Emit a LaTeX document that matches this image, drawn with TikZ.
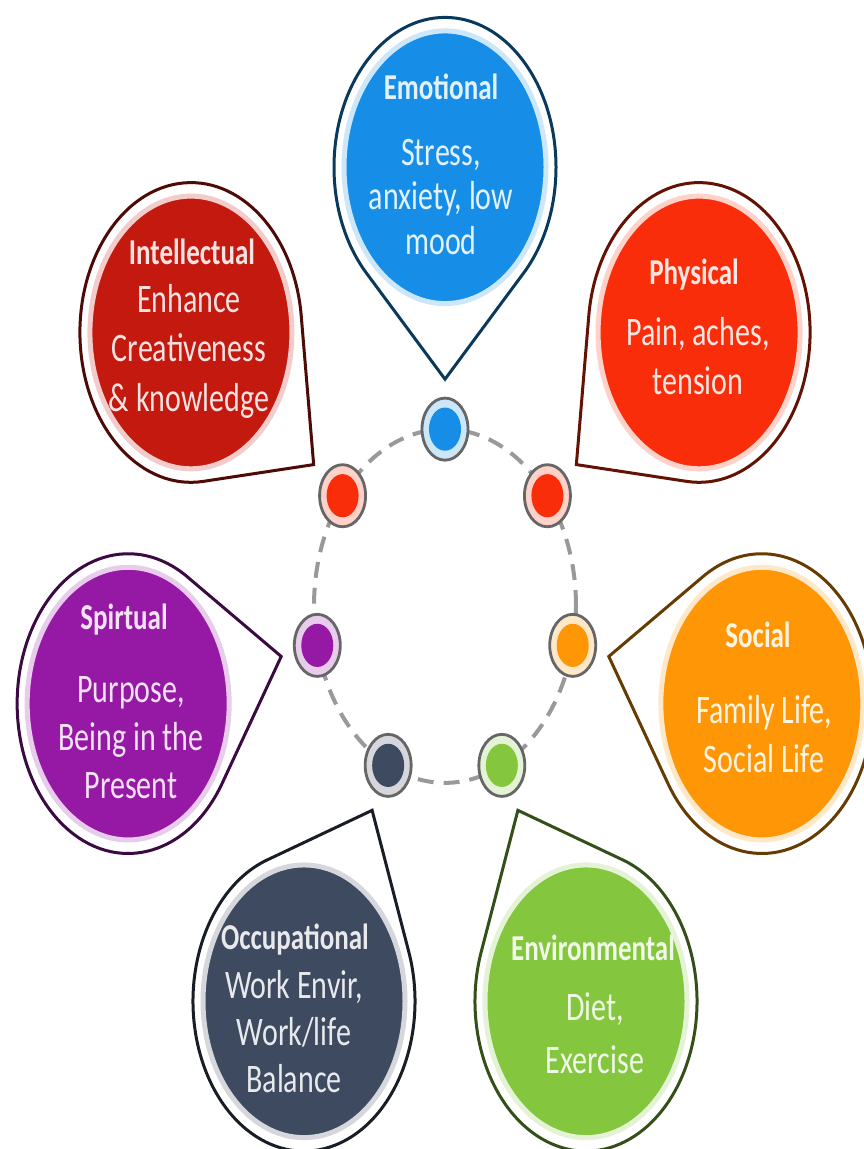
\documentclass[tikz,border=0pt]{standalone}
\usepackage{fontspec}
\usepackage{graphicx}
\setmainfont{Carlito}
\definecolor{cEmo}{RGB}{22,142,232}
\definecolor{cPhy}{RGB}{250,45,10}
\definecolor{cInt}{RGB}{195,25,15}
\definecolor{cSpi}{RGB}{150,25,165}
\definecolor{cSoc}{RGB}{255,150,5}
\definecolor{cEnv}{RGB}{132,198,62}
\definecolor{cOcc}{RGB}{62,74,96}
\newcommand\ttlbox[1]{\scalebox{1}[1.35]{\bfseries\fontsize{13.5}{16}\selectfont #1}}
\newcommand\bdybox[2]{\scalebox{1}[1.35]{\fontsize{15}{#1}\selectfont\begin{tabular}{@{}c@{}}#2\end{tabular}}}
\newcommand\tdrop[2]{%
  \begin{scope}[shift={(#1:325)}]
    \filldraw[line width=1.5pt, draw=#2!40!black, fill=white, line join=miter]
      ({#1+225}:111) arc[start angle={#1+225}, end angle={#1+495}, radius=111]
      -- ({#1+180}:157) -- cycle;
    \filldraw[fill=#2, draw=#2!22!white, line width=2.5pt] (0,0) circle (101);
  \end{scope}}
\begin{document}
\begin{tikzpicture}[x=0.5pt,y=-0.5pt]
\tikzset{
  lbl/.style={inner sep=0pt, anchor=center},
  ring/.style={draw=black!40, line width=2pt, dash pattern=on 8pt off 5pt},
  dotout/.style={draw=black!60, line width=1.4pt},
}
\fill[white] (0,0) rectangle (863,1149);
\useasboundingbox (0,0) rectangle (863,1149);
\begin{scope}[shift={(445,606)}, y=0.5pt, yscale=1.35]
  \tdrop{90}{cEmo}
  \tdrop{38.571}{cPhy}
  \tdrop{-12.857}{cSoc}
  \tdrop{-64.286}{cEnv}
  \tdrop{-115.714}{cOcc}
  \tdrop{-167.143}{cSpi}
  \tdrop{141.429}{cInt}
  \draw[ring] (0,0) circle (131);
  \foreach \a/\c [count=\i] in {90/cEmo, 38.571/cPhy, -12.857/cSoc, -64.286/cEnv, -115.714/cOcc, -167.143/cSpi, 141.429/cPhy} {
    \coordinate (d\i) at (\a:131);
    \filldraw[dotout, fill=\c!22!white] (d\i) circle (23);
    \fill[\c] (d\i) circle (16);
  }
\end{scope}
% texts
\node[lbl, text=white!88!cEmo] (tEmo) at (441,87) {\ttlbox{Emotional}};
\node[lbl, text=white!88!cEmo] (bEmo) at (441,201) {\bdybox{16.5}{Stress,\\anxiety, low\\mood}};
\node[lbl, text=white!88!cPhy] (tPhy) at (694,275) {\ttlbox{Physical}};
\node[lbl, text=white!88!cPhy] (bPhy) at (698,360) {\bdybox{18.5}{Pain, aches,\\tension}};
\node[lbl, text=white!88!cInt] (tInt) at (192,252) {\ttlbox{Intellectual}};
\node[lbl, text=white!88!cInt] (bInt) at (189,352) {\bdybox{18.5}{Enhance\\Creativeness\\\& knowledge}};
\node[lbl, text=white!88!cSpi] (tSpi) at (124,620) {\ttlbox{Spirtual}};
\node[lbl, text=white!88!cSpi] (bSpi) at (131,741) {\bdybox{17.8}{Purpose,\\Being in the\\Present}};
\node[lbl, text=white!88!cSoc] (tSoc) at (758,635) {\ttlbox{Social}};
\node[lbl, text=white!88!cSoc] (bSoc) at (764,738) {\bdybox{18.5}{Family Life,\\Social Life}};
\node[lbl, text=white!88!cOcc] (tOcc) at (295,940) {\ttlbox{Occupational}};
\node[lbl, text=white!88!cOcc] (bOcc) at (294,1036) {\bdybox{17.4}{Work Envir,\\Work/life\\Balance}};
\node[lbl, text=white!88!cEnv] (tEnv) at (593,948) {\ttlbox{Environmental}};
\node[lbl, text=white!88!cEnv] (bEnv) at (595,1036) {\bdybox{19.6}{Diet,\\Exercise}};
\end{tikzpicture}
\end{document}
